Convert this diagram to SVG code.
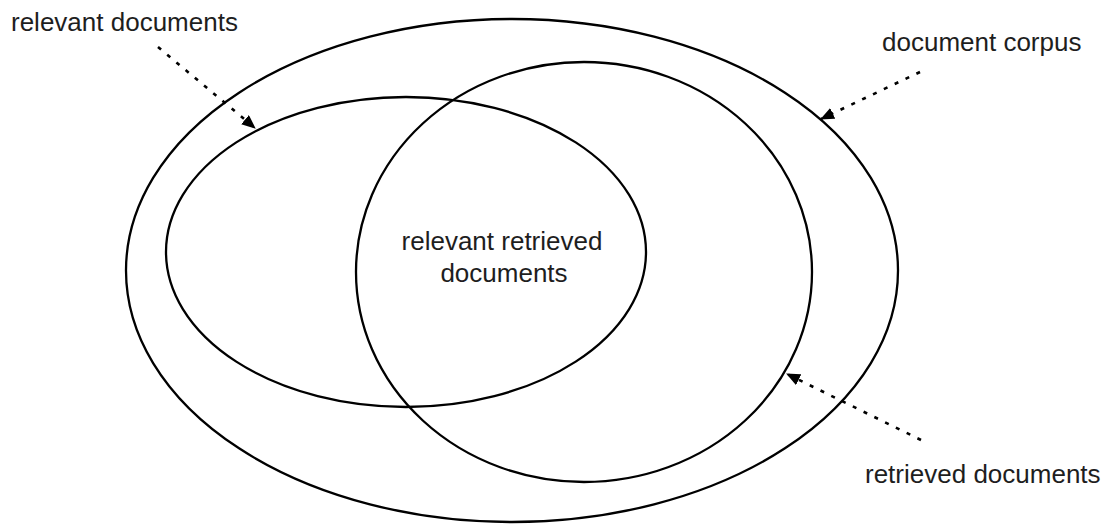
<svg xmlns="http://www.w3.org/2000/svg" width="1110" height="524" viewBox="0 0 1110 524">
  <style>
    .set { fill: none; stroke: #000; stroke-width: 2.3; }
    .lbl { font-family: "Liberation Sans", Arial, sans-serif; font-size: 26px; fill: #1e1e1e; }
    .ptr { fill: none; stroke: #000; stroke-width: 2.6; stroke-dasharray: 4 8; marker-end: url(#head); }
  </style>
  <defs>
    <marker id="head" viewBox="0 0 14 12" refX="13" refY="6" markerWidth="14" markerHeight="12" markerUnits="userSpaceOnUse" orient="auto">
      <path d="M0,0 L14,6 L0,12 Z" fill="#000"/>
    </marker>
  </defs>
  <rect width="1110" height="524" fill="#fff"/>
  <g id="corpus">
    <ellipse class="set" cx="512" cy="270.5" rx="386" ry="251.5"/>
  </g>
  <g id="relevant">
    <ellipse class="set" cx="406" cy="252" rx="240" ry="155"/>
  </g>
  <g id="retrieved">
    <ellipse class="set" cx="584" cy="272" rx="228" ry="210"/>
  </g>
  <g id="intersection-label">
    <text class="lbl" x="502" y="250" text-anchor="middle">relevant retrieved</text>
    <text class="lbl" x="504" y="282" text-anchor="middle">documents</text>
  </g>
  <g id="label-relevant">
    <text class="lbl" x="11" y="31">relevant documents</text>
  </g>
  <g id="label-corpus">
    <text class="lbl" x="882" y="51">document corpus</text>
  </g>
  <g id="label-retrieved">
    <text class="lbl" x="865" y="483">retrieved documents</text>
  </g>
  <g id="connectors">
    <line class="ptr" x1="158" y1="47" x2="255" y2="128"/>
    <line class="ptr" x1="920" y1="72" x2="821" y2="119"/>
    <line class="ptr" x1="921" y1="440" x2="787" y2="374"/>
  </g>
</svg>
